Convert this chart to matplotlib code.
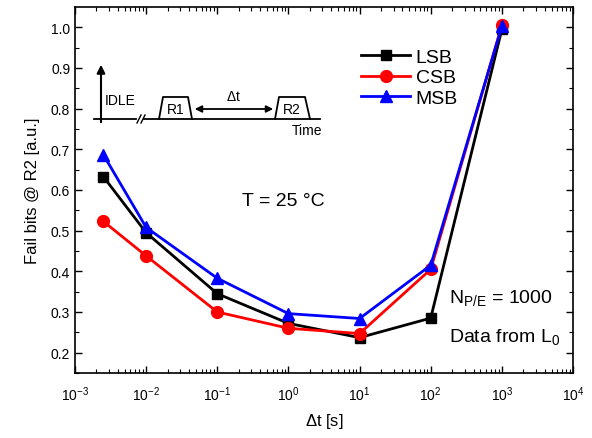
import matplotlib.pyplot as plt
import numpy as np

plt.rcParams['font.family'] = ['Liberation Sans', 'DejaVu Sans']
plt.rcParams['mathtext.fontset'] = 'custom'
plt.rcParams['mathtext.rm'] = 'Liberation Sans'

dt = [2.5e-3, 1e-2, 1e-1, 1, 10, 100, 1000]
lsb = [0.633, 0.495, 0.345, 0.272, 0.237, 0.285, 0.995]
csb = [0.523, 0.438, 0.300, 0.260, 0.247, 0.405, 1.005]
msb = [0.687, 0.508, 0.383, 0.296, 0.284, 0.415, 1.003]

fig = plt.figure(figsize=(5.92, 4.39), dpi=100)
ax = fig.add_axes([75/592, 1 - 374/439, (573-75)/592, (374-8)/439])

ax.plot(dt, lsb, '-s', color='black', lw=2, ms=7.5, label='LSB')
ax.plot(dt, csb, '-o', color='red', lw=2, ms=8.5, label='CSB')
ax.plot(dt, msb, '-^', color='blue', lw=2, ms=8.5, label='MSB')

ax.set_xscale('log')
ax.set_xlim(1e-3, 1e4)
ax.set_ylim(0.15, 1.05)
ax.set_yticks(np.arange(0.2, 1.01, 0.1))
ax.set_yticks(np.arange(0.15, 1.05, 0.1), minor=True)
ax.set_xticks([10.0**k for k in range(-3, 5)])
ax.tick_params(which='both', direction='in', top=True, right=True, labelsize=10)
ax.tick_params(which='major', length=5, width=1)
ax.tick_params(which='minor', length=3, width=0.8)
ax.tick_params(axis='x', which='major', pad=8)
for s in ax.spines.values():
    s.set_linewidth(1.2)

ax.set_xlabel(r'$\Delta$t [s]', fontsize=12, labelpad=6)
ax.set_ylabel('Fail bits @ R2 [a.u.]', fontsize=12, labelpad=8)

ax.legend(loc='upper left', bbox_to_anchor=(0.54, 0.935), frameon=False,
          fontsize=14, handlelength=2.5, handletextpad=0.3, labelspacing=0.15)

ax.text(0.335, 0.47, 'T = 25 °C', transform=ax.transAxes, fontsize=14, va='center')
ax.text(0.752, 0.205, r'N$_{\mathrm{P/E}}$ = 1000', transform=ax.transAxes, fontsize=14, va='center')
ax.text(0.752, 0.10, r'Data from L$_{\mathrm{0}}$', transform=ax.transAxes, fontsize=14, va='center')

# timing schematic, drawn in figure pixel coordinates
sk = fig.add_axes([0, 0, 1, 1], facecolor='none')
sk.set_xlim(0, 592)
sk.set_ylim(439, 0)
sk.axis('off')
base = 120
sk.plot([94, 136], [base, base], color='black', lw=1.3)
sk.plot([144, 320], [base, base], color='black', lw=1.3)
sk.plot([137, 141], [base + 4, base - 4], color='black', lw=1)
sk.plot([141, 145], [base + 4, base - 4], color='black', lw=1)
sk.annotate('', xy=(101, 63), xytext=(101, 126),
            arrowprops=dict(arrowstyle='-|>', color='black', lw=1.5, mutation_scale=12))
sk.plot([159, 163, 188, 192], [base, 98, 98, base], color='black', lw=1.3)
sk.plot([275, 279, 305, 310], [base, 98, 98, base], color='black', lw=1.3)
sk.annotate('', xy=(192, 110), xytext=(276, 110),
            arrowprops=dict(arrowstyle='<|-|>', color='black', lw=1.3, mutation_scale=10))
sk.text(105, 101, 'IDLE', fontsize=10, va='center')
sk.text(176, 110, 'R1', fontsize=10, va='center', ha='center')
sk.text(292, 110, 'R2', fontsize=10, va='center', ha='center')
sk.text(234, 97, r'$\Delta$t', fontsize=10, va='center', ha='center')
sk.text(292, 131, 'Time', fontsize=10, va='center')

fig.savefig('out.png', dpi=100)
